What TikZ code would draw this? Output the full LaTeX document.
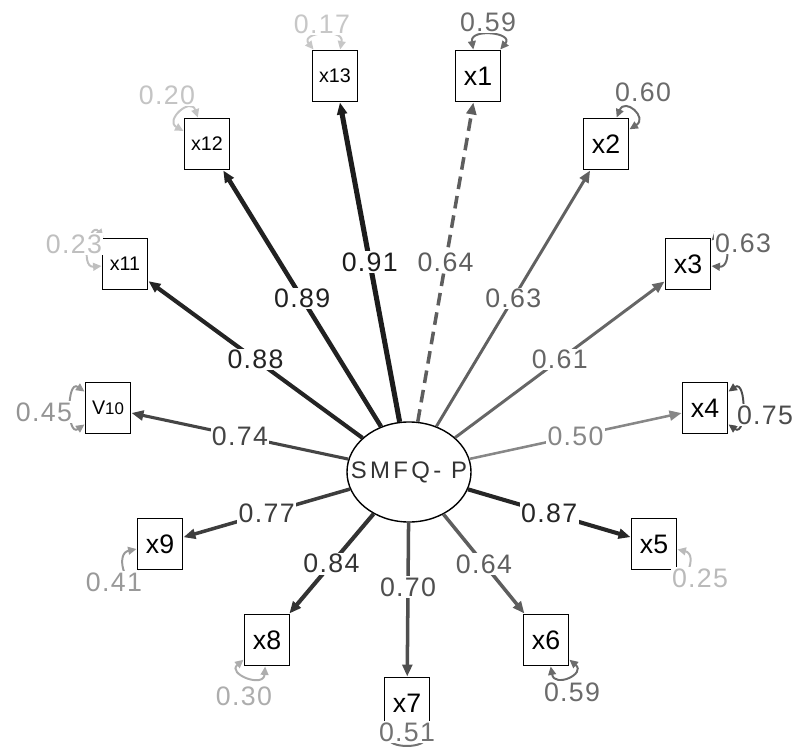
\documentclass[tikz,border=0pt]{standalone}
\usepackage{fontspec}
\setmainfont{Liberation Sans}
\newfontfamily\coeffont[LetterSpace=5]{Liberation Sans}
\newfontfamily\latfont[LetterSpace=14]{Liberation Sans}
\usetikzlibrary{shapes.geometric, arrows.meta}
\tikzset{
  latent/.style={ellipse, draw=black, fill=white, line width=1pt,
    inner sep=0pt, minimum width=3.1cm, minimum height=2.5cm},
  obsbox/.style={rectangle, draw=black, fill=white, line width=1.4pt,
    inner sep=0pt, minimum width=1.125cm, minimum height=1.275cm,
    font=\fontsize{19}{21}\selectfont},
  smallbox/.style={obsbox, font=\fontsize{14}{16}\selectfont},
  load/.style={-{Triangle[length=8.5pt,width=7pt]}},
  plainedge/.style={},
  dashedge/.style={dash pattern=on 9pt off 5pt},
  coef/.style={fill=white, inner sep=1pt, font=\coeffont\fontsize{19}{21}\selectfont},
  resid/.style={{Triangle[length=6pt,width=5.5pt]}-{Triangle[length=6pt,width=5.5pt]},
    line width=1.4pt}
}

\begin{document}
\begin{tikzpicture}[x=0.025cm, y=0.025cm]
  \useasboundingbox (0,0) rectangle (796,746);
  \node[latent] (smfq) at (409,274) {};
  \node[font=\latfont\fontsize{17}{19}\selectfont, text=black!80] (smfqtext) at (smfq) {SMFQ- P};
  \foreach \n/\x/\y/\t/\s in {x1/478/670/x1/obsbox, x2/606/602/x2/obsbox,
      x3/688/482/x3/obsbox, x4/705/338/x4/obsbox, x5/654/202/x5/obsbox,
      x6/546/106/x6/obsbox, x7/407/43/x7/obsbox, x8/267/106/x8/obsbox,
      x9/160/202/x9/obsbox,
      v10/108/338/{V{\fontsize{12}{14}\selectfont 10}}/smallbox,
      x11/125/482/x11/smallbox, x12/207/602/x12/smallbox, x13/335/670/x13/smallbox} {
    \node[\s] (\n) at (\x,\y) {\t};
  }
  \foreach \n/\w/\c/\v/\d/\p in {x13/3.6pt/black!89/0.91/plainedge/0.5,
      x12/3.2pt/black!87/0.89/plainedge/0.5, x11/2.9pt/black!86/0.88/plainedge/0.5,
      v10/2.2pt/black!73/0.74/plainedge/0.5, x9/2.5pt/black!76/0.77/plainedge/0.5,
      x8/2.9pt/black!80/0.84/plainedge/0.5, x7/2.5pt/black!69/0.70/plainedge/0.42,
      x6/2.5pt/black!63/0.64/plainedge/0.5, x5/2.9pt/black!85/0.87/plainedge/0.5,
      x4/1.8pt/black!47/0.50/plainedge/0.5, x3/2.1pt/black!60/0.61/plainedge/0.5,
      x2/2.1pt/black!62/0.63/plainedge/0.5, x1/2.5pt/black!63/0.64/dashedge/0.5} {
    \draw[load, line width=\w, draw=\c, \d] (smfq) -- node[coef, text=\c, pos=\p] {\v} (\n);
  }
  \foreach \n/\a/\s/\c/\v/\lx/\ly in {x1/75/25/black!58/0.59/488/724,
      x2/50/18/black!58/0.60/643/654, x3/20/25/black!60/0.63/743/503,
      x4/360/35/black!70/0.75/765/331, x5/325/22/black!27/0.25/700/168,
      x6/300/20/black!58/0.59/572/54, x7/270/27/black!55/0.51/407/14,
      x8/243/23/black!32/0.30/244/50, x9/212/20/black!40/0.41/114/164,
      v10/180/35/black!42/0.45/44/334, x11/157/28/black!25/0.23/74/502,
      x12/130/21/black!23/0.20/167/651, x13/104/25/black!22/0.17/322/722} {
    \pgfmathtruncatemacro\aa{\a-\s}
    \pgfmathtruncatemacro\ab{\a+\s}
    \draw[resid, draw=\c] (\n.\aa) .. controls +(\aa:22) and +(\ab:22) .. (\n.\ab);
    \node[coef, text=\c] (r\n) at (\lx,\ly) {\v};
  }
\end{tikzpicture}
\end{document}
